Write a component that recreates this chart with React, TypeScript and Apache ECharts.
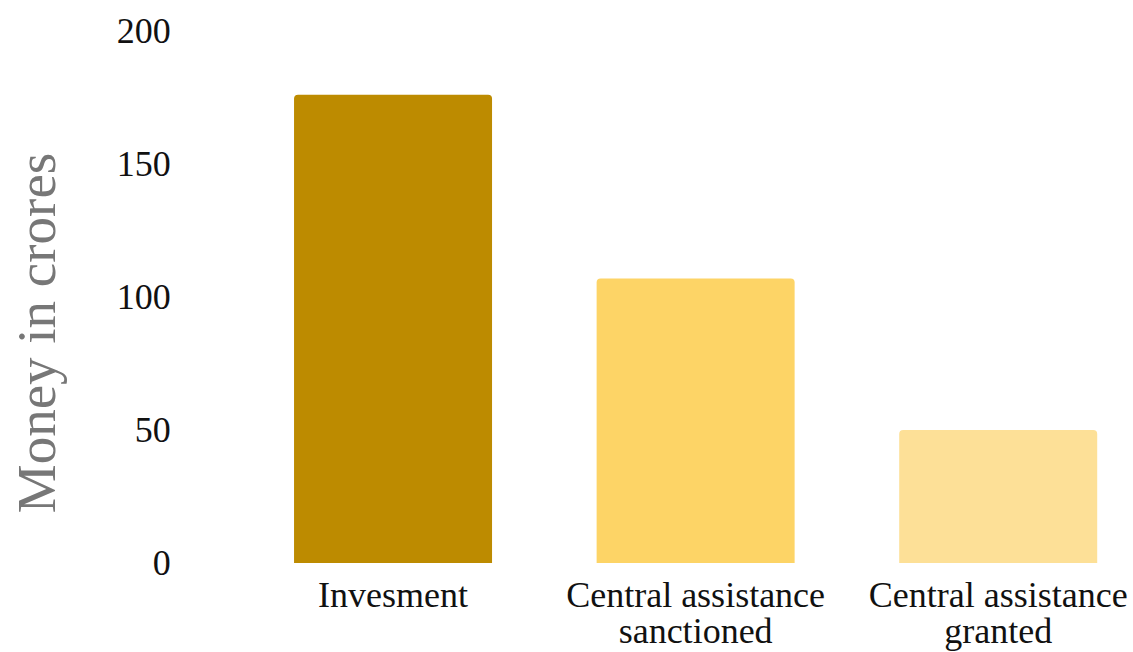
import React, { useEffect, useRef } from "react";
import * as echarts from "echarts";

const categories = ["Invesment", "Central assistance\nsanctioned", "Central assistance\ngranted"];
const values = [176, 107, 50];
const barColors = ["#BD8B00", "#FDD466", "#FDE097"];
const yTicks = [0, 50, 100, 150, 200];
const yAxisTitle = "Money in crores";

export default function App() {
  const ref = useRef<HTMLDivElement>(null);
  useEffect(() => {
    if (!ref.current) return;
    const chart = echarts.init(ref.current, undefined, { renderer: "svg" });
    chart.setOption({
      animation: false,
      backgroundColor: "#ffffff",
      grid: { left: 241.75, right: 0.5, top: 31, bottom: 89, outerBoundsMode: "none", containLabel: false },
      xAxis: {
        type: "category",
        data: categories,
        axisLine: { show: false },
        axisTick: { show: false },
        axisLabel: {
          color: "#111",
          fontFamily: "Liberation Serif",
          fontSize: 36,
          lineHeight: 36,
          margin: 14,
          interval: 0,
        },
      },
      yAxis: {
        type: "value",
        min: yTicks[0],
        max: yTicks[yTicks.length - 1],
        interval: 50,
        splitLine: { show: false },
        axisLine: { show: false },
        axisTick: { show: false },
        axisLabel: {
          color: "#111",
          fontFamily: "Liberation Serif",
          fontSize: 36,
          margin: 71,
        },
      },
      graphic: [
        {
          type: "text",
          x: 36,
          y: 333,
          rotation: Math.PI / 2,
          style: {
            text: yAxisTitle,
            fill: "#777777",
            font: "55px 'Liberation Serif'",
            textAlign: "center",
            textVerticalAlign: "middle",
          },
        },
      ],
      series: [
        {
          type: "bar",
          barWidth: 198,
          data: values.map((v, i) => ({
            value: v,
            itemStyle: { color: barColors[i], borderRadius: [4, 4, 0, 0] },
          })),
        },
      ],
    });
    return () => chart.dispose();
  }, []);
  return (
    <div
      ref={ref}
      style={{ position: "fixed", left: 0, top: 0, width: 1150, height: 652 }}
    />
  );
}
